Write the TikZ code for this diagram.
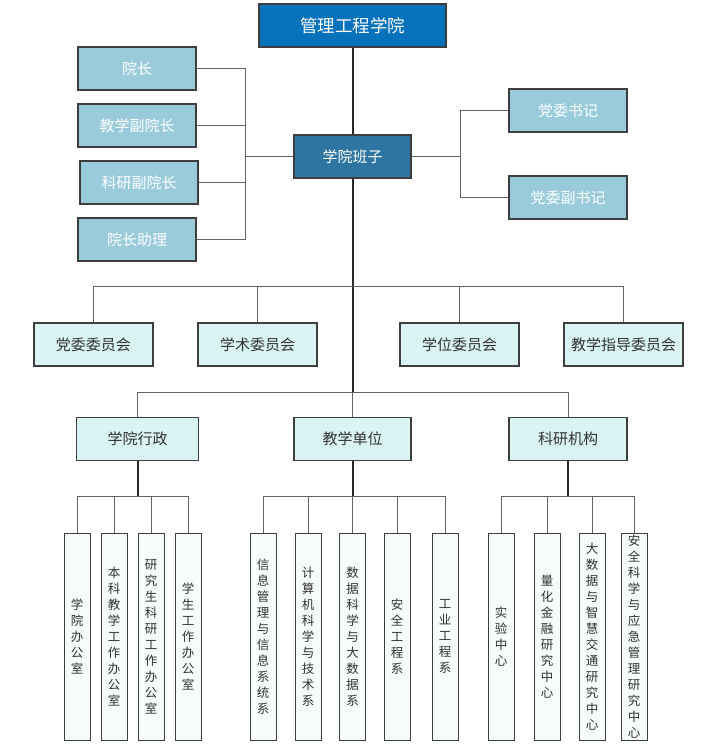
\documentclass[tikz,border=0pt]{standalone}
\usepackage{fontspec}
\setmainfont{Noto Sans CJK SC}
\definecolor{topblue}{RGB}{6,114,188}
\definecolor{midblue}{RGB}{46,117,161}
\definecolor{lblue}{RGB}{154,203,218}
\definecolor{lcyan}{RGB}{218,243,243}
\definecolor{pale}{RGB}{246,251,251}
\definecolor{bord}{RGB}{62,62,62}
\definecolor{conn}{RGB}{100,100,100}
\definecolor{trunkc}{RGB}{40,40,40}
\definecolor{txt}{RGB}{50,50,50}
\tikzset{
  basebox/.style={draw=bord, line width=1.2pt, inner sep=0pt, minimum height=43pt},
  topbox/.style={basebox, fill=topblue, text=white, minimum width=187pt, font=\fontsize{17.5}{20}\selectfont},
  midbox/.style={basebox, fill=midblue, text=white, minimum width=117pt, font=\fontsize{15}{18}\selectfont},
  leadbox/.style={basebox, fill=lblue, text=white, minimum width=118pt, font=\fontsize{15}{18}\selectfont},
  catbox/.style={basebox, fill=lcyan, text=txt, font=\fontsize{15}{18}\selectfont},
  unitbox/.style={basebox, line width=1pt, fill=pale, text=txt, minimum width=26pt, minimum height=207pt, align=center, font=\fontsize{12.5}{16}\selectfont},
  conn/.style={draw=conn, line width=1pt},
  trunk/.style={draw=trunkc, line width=2pt}
}
\begin{document}
\begin{tikzpicture}[x=1pt,y=-1pt]
\useasboundingbox (0,0) rectangle (708,745);
% top levels
\node[topbox] (top) at (352.5,25.5) {管理工程学院};
\node[midbox] (ban) at (352.5,156.5) {学院班子};
\node[leadbox] (yz) at (137,68.5) {院长};
\node[leadbox] (jxf) at (137,125.5) {教学副院长};
\node[leadbox] (kyf) at (139,182.5) {科研副院长};
\node[leadbox] (yzzl) at (137,239.5) {院长助理};
\node[leadbox] (dwsj) at (568,110.5) {党委书记};
\node[leadbox] (dwfsj) at (568,197.5) {党委副书记};
\coordinate (lb) at (245,156.5);
\coordinate (rb) at (460,156.5);
\draw[trunk] (top.south) -- (ban.north);
\draw[conn] (ban.west) -- (lb);
\draw[conn] (yz.east) -| (lb);
\draw[conn] (jxf.east) -| (lb);
\draw[conn] (kyf.east) -| (lb);
\draw[conn] (yzzl.east) -| (lb);
\draw[conn] (ban.east) -- (rb);
\draw[conn] (dwsj.west) -| (rb);
\draw[conn] (dwfsj.west) -| (rb);
% committees
\node[catbox, minimum width=119pt] (c1) at (93.5,344.5) {党委委员会};
\node[catbox, minimum width=119pt] (c2) at (257.5,344.5) {学术委员会};
\node[catbox, minimum width=119pt] (c3) at (459.5,344.5) {学位委员会};
\node[catbox, minimum width=119pt] (c4) at (623.5,344.5) {教学指导委员会};
\coordinate (j1) at (352.5,286);
\coordinate (j2) at (352.5,392);
\draw[trunk] (ban.south) -- (j2);
\draw[conn] (c1.north) |- (j1);
\draw[conn] (c2.north) |- (j1);
\draw[conn] (c3.north) |- (j1);
\draw[conn] (c4.north) |- (j1);
% third row
\node[catbox, minimum width=122pt] (xz) at (137.5,439) {学院行政};
\node[catbox, minimum width=117pt] (jd) at (352.5,439) {教学单位};
\node[catbox, minimum width=118pt] (kj) at (568,439) {科研机构};
\draw[conn] (xz.north) |- (j2);
\draw[conn] (jd.north) -- (j2);
\draw[conn] (kj.north) |- (j2);
% bottom: admin
\coordinate (ba) at (137.5,496);
\coordinate (bb) at (352.5,496);
\coordinate (bc) at (568,496);
\draw[trunk] (xz.south) -- (ba);
\draw[trunk] (jd.south) -- (bb);
\draw[trunk] (kj.south) -- (bc);
\node[unitbox] (a1) at (77,636.5) {学\\院\\办\\公\\室};
\node[unitbox] (a2) at (114,636.5) {本\\科\\教\\学\\工\\作\\办\\公\\室};
\node[unitbox] (a3) at (151,636.5) {研\\究\\生\\科\\研\\工\\作\\办\\公\\室};
\node[unitbox] (a4) at (188,636.5) {学\\生\\工\\作\\办\\公\\室};
\foreach \n in {a1,a2,a3,a4} \draw[conn] (\n.north) |- (ba);
% teaching units
\node[unitbox] (t1) at (263,636.5) {信\\息\\管\\理\\与\\信\\息\\系\\统\\系};
\node[unitbox] (t2) at (308,636.5) {计\\算\\机\\科\\学\\与\\技\\术\\系};
\node[unitbox] (t3) at (352.5,636.5) {数\\据\\科\\学\\与\\大\\数\\据\\系};
\node[unitbox] (t4) at (397,636.5) {安\\全\\工\\程\\系};
\node[unitbox] (t5) at (445,636.5) {工\\业\\工\\程\\系};
\foreach \n in {t1,t2,t3,t4,t5} \draw[conn] (\n.north) |- (bb);
% research institutes
\node[unitbox] (r1) at (501,636.5) {实\\验\\中\\心};
\node[unitbox] (r2) at (547,636.5) {量\\化\\金\\融\\研\\究\\中\\心};
\node[unitbox] (r3) at (592,636.5) {大\\数\\据\\与\\智\\慧\\交\\通\\研\\究\\中\\心};
\node[unitbox] (r4) at (634,636.5) {安\\全\\科\\学\\与\\应\\急\\管\\理\\研\\究\\中\\心};
\foreach \n in {r1,r2,r3,r4} \draw[conn] (\n.north) |- (bc);
\end{tikzpicture}
\end{document}
